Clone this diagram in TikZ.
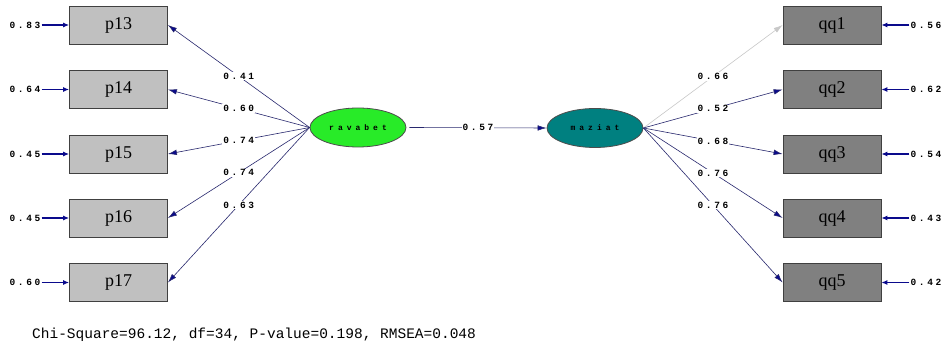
\documentclass[tikz,border=0pt]{standalone}
\usepackage{fontspec}
\setmainfont{Liberation Serif}
\newfontfamily\lblfont[LetterSpace=28]{Liberation Mono}
\newfontfamily\latfont[LetterSpace=50]{Liberation Mono}
\newfontfamily\chifont{Liberation Mono}
\usetikzlibrary{arrows.meta,shapes.geometric}
\definecolor{pathcol}{RGB}{40,40,110}
\definecolor{tipcol}{RGB}{10,10,140}
\definecolor{lightbox}{RGB}{192,192,192}
\definecolor{darkbox}{RGB}{128,128,128}
\definecolor{latgreen}{RGB}{40,235,40}
\definecolor{latteal}{RGB}{0,128,128}
\definecolor{fadecol}{RGB}{200,200,200}
\tikzset{
  obsbox/.style={draw=black!75, line width=0.8pt, minimum width=98pt, minimum height=38pt, inner sep=0pt, font=\fontsize{18}{20}\selectfont},
  leftbox/.style={obsbox, fill=lightbox},
  rightbox/.style={obsbox, fill=darkbox},
  latent/.style={ellipse, draw=black!70, line width=0.8pt, minimum width=96pt, minimum height=39pt, inner sep=0pt, font=\latfont\bfseries\fontsize{8}{9}\selectfont},
  pathline/.style={draw=pathcol, line width=0.6pt, -{Latex[length=9pt,width=5.5pt,fill=tipcol]}},
  fadeline/.style={draw=fadecol, line width=0.6pt, -{Latex[length=9pt,width=5.5pt,fill=fadecol]}},
  errline/.style={draw=tipcol, line width=1.1pt, -{Latex[length=6pt,width=5pt,fill=tipcol]}},
  lbl/.style={fill=white, inner sep=1pt, font=\lblfont\bfseries\fontsize{9.5}{10}\selectfont},
  errlbl/.style={inner sep=1pt, font=\lblfont\bfseries\fontsize{9.5}{10}\selectfont},
}
\begin{document}
\begin{tikzpicture}[x=1pt,y=-1pt]
\useasboundingbox[fill=white] (0,0) rectangle (946,347);
% observed variables
\node[leftbox] (p13) at (118.5,25) {p13};
\node[leftbox] (p14) at (118.5,89.5) {p14};
\node[leftbox] (p15) at (118.5,154) {p15};
\node[leftbox] (p16) at (118.5,218) {p16};
\node[leftbox] (p17) at (118.5,282.5) {p17};
\node[rightbox] (qq1) at (832,25) {qq1};
\node[rightbox] (qq2) at (832,89.5) {qq2};
\node[rightbox] (qq3) at (832,154) {qq3};
\node[rightbox] (qq4) at (832,218) {qq4};
\node[rightbox] (qq5) at (832,282.5) {qq5};
% latent variables
\node[latent, fill=latgreen] (rav) at (358,127.5) {ravabet};
\node[latent, fill=latteal] (maz) at (595,128) {maziat};
% error labels
\node[errlbl] (e13) at (25,25) {0.83};
\node[errlbl] (e14) at (25,89.5) {0.64};
\node[errlbl] (e15) at (25,154) {0.45};
\node[errlbl] (e16) at (25,218) {0.45};
\node[errlbl] (e17) at (25,282.5) {0.60};
\node[errlbl] (f1) at (926,25) {0.56};
\node[errlbl] (f2) at (926,89.5) {0.62};
\node[errlbl] (f3) at (926,154) {0.54};
\node[errlbl] (f4) at (926,218) {0.43};
\node[errlbl] (f5) at (926,282.5) {0.42};
\foreach \a/\b in {e13/p13,e14/p14,e15/p15,e16/p16,e17/p17}
  \draw[errline] (\a.east) -- (\b.west);
\foreach \a/\b in {f1/qq1,f2/qq2,f3/qq3,f4/qq4,f5/qq5}
  \draw[errline] (\a.west) -- (\b.east);
% loadings
\draw[pathline] (rav.west) -- node[lbl, pos=0.5] {0.41} (p13.east);
\draw[pathline] (rav.west) -- node[lbl, pos=0.5] {0.60} (p14.east);
\draw[pathline] (rav.west) -- node[lbl, pos=0.5] {0.74} (p15.east);
\draw[pathline] (rav.west) -- node[lbl, pos=0.5] {0.74} (p16.east);
\draw[pathline] (rav.west) -- node[lbl, pos=0.5] {0.63} (p17.east);
\draw[fadeline] (maz.east) -- node[lbl, pos=0.5] {0.66} (qq1.west);
\draw[pathline] (maz.east) -- node[lbl, pos=0.5] {0.52} (qq2.west);
\draw[pathline] (maz.east) -- node[lbl, pos=0.5] {0.68} (qq3.west);
\draw[pathline] (maz.east) -- node[lbl, pos=0.5] {0.76} (qq4.west);
\draw[pathline] (maz.east) -- node[lbl, pos=0.5] {0.76} (qq5.west);
% structural path
\draw[pathline] ([xshift=3pt]rav.east) -- node[lbl] {0.57} (maz.west);
% fit statistics
\node[anchor=west, inner sep=0pt, font=\chifont\fontsize{14.5}{16}\selectfont] (fit) at (32,335) {Chi-Square=96.12, df=34, P-value=0.198, RMSEA=0.048};
\end{tikzpicture}
\end{document}
